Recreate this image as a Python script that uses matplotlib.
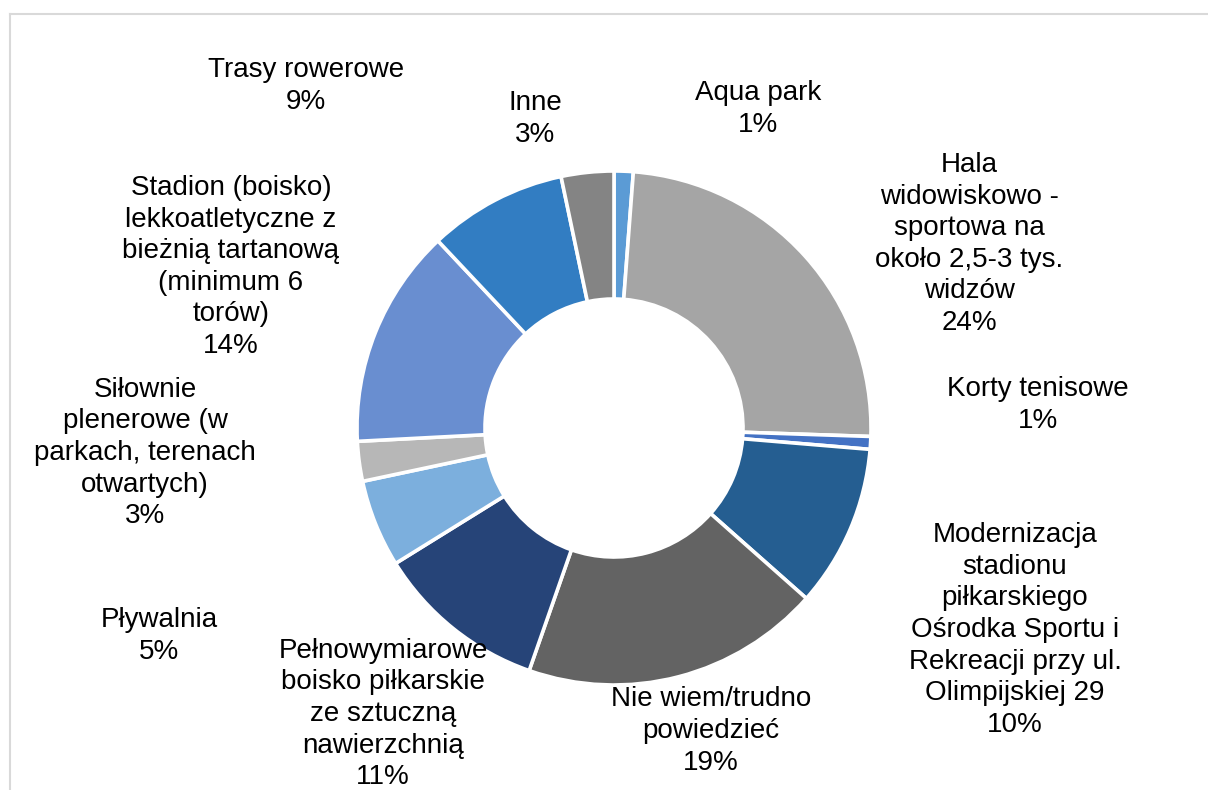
import matplotlib.pyplot as plt
from matplotlib.lines import Line2D

# odpowiedzi (kolejnosc zgodnie z ruchem wskazowek zegara od gory)
labels = ["Aqua park", "Hala\nwidowiskowo -\nsportowa na\nokoło 2,5-3 tys.\nwidzów", "Korty tenisowe",
          "Modernizacja\nstadionu\npiłkarskiego\nOśrodka Sportu i\nRekreacji przy ul.\nOlimpijskiej 29",
          "Nie wiem/trudno\npowiedzieć", "Pełnowymiarowe\nboisko piłkarskie\nze sztuczną\nnawierzchnią",
          "Pływalnia", "Siłownie\nplenerowe (w\nparkach, terenach\notwartych)",
          "Stadion (boisko)\nlekkoatletyczne z\nbieżnią tartanową\n(minimum 6\ntorów)",
          "Trasy rowerowe", "Inne"]
values = [1.2, 24.3, 0.8, 10.2, 18.8, 10.8, 5.5, 2.5, 13.8, 8.7, 3.3]
pct_labels = ["1%", "24%", "1%", "10%", "19%", "11%", "5%", "3%", "14%", "9%", "3%"]
colors = ["#5B9BD5", "#A5A5A5", "#4472C4", "#255E91", "#636363", "#264478",
          "#7CAFDD", "#B7B7B7", "#698ED0", "#327DC2", "#848484"]

# polozenie etykiet w pikselach (od gory obrazka)
label_pos = [(758, 109), (969, 244), (1038, 405), (1015, 630), (711, 731), (383, 714),
             (159, 636), (145, 453), (231, 267), (306, 86), (535, 119)]

W, H = 1208, 790
fig = plt.figure(figsize=(W / 100, H / 100), dpi=100)
ax = fig.add_axes([0, 0, 1, 1])

ax.pie(values, colors=colors, startangle=90, counterclock=False,
       center=(614, H - 428), radius=257, frame=True,
       wedgeprops=dict(width=128, edgecolor="white", linewidth=2.6))
ax.set_xlim(0, W)
ax.set_ylim(0, H)
ax.axis("off")

for lab, p, (x, y) in zip(labels, pct_labels, label_pos):
    ax.text(x, H - y, lab + "\n" + p, ha="center", va="center", fontsize=20,
            family="Liberation Sans", linespacing=1.28, color="black")

# ramka wykresu
fig.add_artist(Line2D([10 / W, 10 / W], [0, 1 - 14 / H], transform=fig.transFigure, color="#D9D9D9", lw=1.5))
fig.add_artist(Line2D([10 / W, 1], [1 - 14 / H, 1 - 14 / H], transform=fig.transFigure, color="#D9D9D9", lw=1.5))

fig.savefig("out.png", dpi=100)
